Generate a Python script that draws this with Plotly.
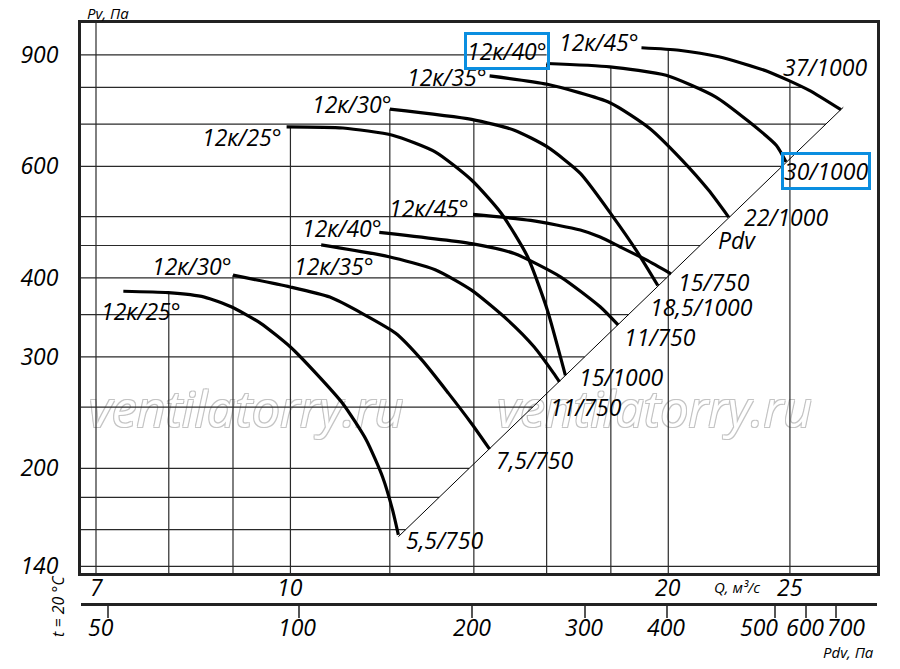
import numpy as np
import plotly.graph_objects as go

# ---------------- data (Q in m3/s, Pv in Pa) ----------------
q_range = [6.81, 29.33]
pv_range = [136.7, 1011]

q_grid = [7, 8, 9, 10, 12, 14, 16, 18, 20, 25]
pv_grid = [140, 160, 180, 200, 250, 300, 350, 400, 450, 500, 600, 700, 800, 900]

q_ticks = [7, 10, 20, 25]
pv_ticks = [140, 200, 300, 400, 600, 900]

# lower family (750 rpm)
q_s25 = [7.36, 7.99, 8.54, 8.97, 9.47, 10.0, 10.49, 11.01, 11.49, 11.84, 12.06, 12.19]
pv_s25 = [381, 379, 373, 360, 339, 311, 282, 253, 222, 194, 172, 157]
q_s30 = [9.0, 9.995, 10.75, 11.42, 12.13, 12.73, 13.36, 13.94, 14.41]
pv_s30 = [404, 387, 373, 351, 327, 296.5, 263, 235.5, 214.5]
q_s35 = [10.58, 11.98, 13.04, 13.94, 14.90, 15.64, 16.21, 16.38]
pv_s35 = [451, 432, 412, 382.5, 343, 311, 282.5, 274]
q_s40 = [11.77, 13.94, 15.08, 16.41, 17.65, 18.24]
pv_s40 = [472, 453, 437, 401.5, 360, 337]
q_s45 = [13.98, 15.54, 17.02, 17.65, 18.30, 19.21, 20.10]
pv_s45 = [504, 493, 476, 464, 448, 427, 406]

# upper family (1000 rpm)
q_b25 = [9.93, 11.01, 12.06, 13.04, 13.94, 14.72, 15.45, 16.02, 16.41, 16.56]
pv_b25 = [693, 690, 672, 632.5, 571, 506, 432, 356, 300, 280.5]
q_b30 = [12.0, 13.94, 15.08, 16.02, 17.02, 18.08, 18.86, 19.62]
pv_b30 = [739, 712, 684.5, 644, 585, 499, 442, 389]
q_b35 = [14.41, 16.02, 17.97, 19.32, 20.51, 21.54, 22.34]
pv_b35 = [834, 809, 756.5, 689.5, 614, 550, 499]
q_b40 = [16.0, 17.97, 19.92, 21.81, 23.17, 24.38, 24.82]
pv_b40 = [872.5, 862, 836, 773, 707, 648, 610]
q_b45 = [19.04, 20.40, 21.94, 24.03, 25.88, 27.45]
pv_b45 = [924, 915.6, 894, 847, 792, 737.5]

blade_labels = ["12к/25°", "12к/30°", "12к/35°", "12к/40°", "12к/45°"]
motor_small = ["5,5/750", "7,5/750", "11/750", "11/750", "15/750"]
motor_big = ["15/1000", "18,5/1000", "22/1000", "30/1000", "37/1000"]

# dynamic pressure line Pdv
q_pdv = [12.19, 27.57]
pv_pdv = [156, 744]

# Pdv scale under the chart: value, tick on Q scale, label centre on Q scale
pdv_text = ["50", "100", "200", "300", "400", "500", "600", "700"]
pdv_tick_q = [7.16, 10.15, 13.96, 17.17, 19.96, 24.33, 25.74, 27.18]
pdv_label_q = [7.06, 10.13, 13.94, 17.14, 19.93, 23.60, 25.69, 27.73]

# watermark centres
wm_q = [9.22, 19.5]
wm_pv = [243, 243]

small = [(q_s25, pv_s25), (q_s30, pv_s30), (q_s35, pv_s35), (q_s40, pv_s40), (q_s45, pv_s45)]
big = [(q_b25, pv_b25), (q_b30, pv_b30), (q_b35, pv_b35), (q_b40, pv_b40), (q_b45, pv_b45)]

# label offsets in px (xshift, yshift)
small_start_off = [(60, -20), (1, 9), (55, -21), (5, 4), (-2, 6.5)]
big_start_off = [(-3, -10.5), (4.5, 5), (-1, -1.5), (3, 12.5), (0, 5.5)]
small_end_off = [(6, -5), (4, -11), (-11, -25), (4, -12), (5, -8)]
big_end_off = [(12, -2), (-10, -21), (13, 0), (-5, -9), (-60, 42.5)]

BLUE = "#0a8ee0"
GRID = "#2a2a2a"
FONT = dict(family="Open Sans", size=23, color="black", style="italic")
SMALL_FONT = dict(family="Open Sans", size=15, color="black", style="italic")

lg = np.log10


def on_pdv(p):
    t = (lg(p) - lg(pv_pdv[0])) / (lg(pv_pdv[1]) - lg(pv_pdv[0]))
    return 10 ** (lg(q_pdv[0]) + t * (lg(q_pdv[1]) - lg(q_pdv[0])))


def curve_at(q, cq, cp):
    return 10 ** np.interp(lg(q), lg(cq), lg(cp))


def crossing(p, cq, cp):
    return 10 ** np.interp(lg(p), lg(cp[::-1]), lg(cq[::-1]))


fig = go.Figure()

# watermark first so that everything else is drawn over it
outline = ", ".join(f"{dx}px {dy}px 0 #c4c4c4" for dx, dy in [(1, 1), (-1, -1), (1, -1), (-1, 1)])
fig.add_trace(go.Scatter(x=wm_q, y=wm_pv, mode="text", text=["ventilatorry.ru"] * 2,
                         textposition="middle center", cliponaxis=False,
                         textfont=dict(family="Open Sans", size=50, color="white",
                                       style="italic", shadow=outline),
                         hoverinfo="skip"))

# grid, clipped by the curves on top and by the Pdv line on the right
for q in q_grid:
    tops = [curve_at(q, cq, cp) for cq, cp in small + big if cq[0] <= q <= cq[-1]]
    top = max(tops) if tops else pv_range[1] * 1.05
    fig.add_trace(go.Scatter(x=[q, q], y=[pv_range[0] * 0.95, top], mode="lines",
                             line=dict(color=GRID, width=1.2), hoverinfo="skip"))

for p in pv_grid:
    if p < pv_pdv[0]:
        end = q_range[1] * 1.05
    elif p <= pv_pdv[1]:
        end = on_pdv(p)
    elif p > max(pv_b40):
        end = q_b40[0]
    else:
        end = crossing(p, q_b45, pv_b45)
    fig.add_trace(go.Scatter(x=[q_range[0] * 0.95, end], y=[p, p], mode="lines",
                             line=dict(color=GRID, width=1.2), hoverinfo="skip"))

fig.add_trace(go.Scatter(x=q_pdv, y=pv_pdv, mode="lines",
                         line=dict(color="black", width=1), hoverinfo="skip"))

for cq, cp in small + big:
    fig.add_trace(go.Scatter(x=cq, y=cp, mode="lines",
                             line=dict(color="black", width=3.2, shape="spline", smoothing=0.6),
                             hoverinfo="skip"))

# keeps the Pdv scale axis alive
fig.add_trace(go.Scatter(x=[10], y=[300], xaxis="x2", yaxis="y", mode="markers",
                         marker=dict(opacity=0), hoverinfo="skip"))

ann = []
for group, s_off, e_off, motors, boxed in [
    (small, small_start_off, small_end_off, motor_small, (None, None)),
    (big, big_start_off, big_end_off, motor_big, (3, 3)),
]:
    for i, (cq, cp) in enumerate(group):
        a = dict(x=lg(cq[0]), y=lg(cp[0]), xref="x", yref="y", text=blade_labels[i],
                 xanchor="right", yanchor="middle", showarrow=False, font=FONT,
                 xshift=s_off[i][0], yshift=s_off[i][1])
        if boxed[0] == i:
            a.update(bordercolor=BLUE, borderwidth=3, borderpad=0)
        ann.append(a)
        b = dict(x=lg(cq[-1]), y=lg(cp[-1]), xref="x", yref="y", text=motors[i],
                 xanchor="left", yanchor="middle", showarrow=False, font=FONT,
                 xshift=e_off[i][0], yshift=e_off[i][1])
        if boxed[1] == i:
            b.update(bordercolor=BLUE, borderwidth=3, borderpad=0)
        ann.append(b)

ann.append(dict(x=lg(22.67), y=lg(459), xref="x", yref="y", text="Pdv", showarrow=False,
                xanchor="center", yanchor="middle", font=FONT))

# Q tick labels sit a little closer to the frame than the axis would put them
for q in q_ticks:
    ann.append(dict(x=lg(q), y=0.0534, xref="x", yref="paper", text=str(q), showarrow=False,
                    xanchor="center", yanchor="middle", yshift=-14, font=FONT))

for txt, lq in zip(pdv_text, pdv_label_q):
    ann.append(dict(x=lg(lq), y=0, xref="x", yref="paper", text=txt, showarrow=False,
                    xanchor="center", yanchor="middle", yshift=-23, font=FONT))

ann += [
    dict(x=0, y=1, xref="paper", yref="paper", text="Pv, Па", showarrow=False,
         xanchor="center", yanchor="middle", xshift=27, yshift=10, font=SMALL_FONT),
    dict(x=0.8236, y=0, xref="paper", yref="paper", text="Q, м³/c", showarrow=False,
         xanchor="center", yanchor="middle", yshift=17, font=SMALL_FONT),
    dict(x=0.964, y=0, xref="paper", yref="paper", text="Pdv, Па", showarrow=False,
         xanchor="center", yanchor="middle", yshift=-48, font=SMALL_FONT),
    dict(x=0, y=0, xref="paper", yref="paper", text="t = 20 °C", showarrow=False,
         xanchor="center", yanchor="middle", textangle=-90, xshift=-23, yshift=-2,
         font=dict(family="Open Sans", size=16, color="black", style="italic")),
]

# the page body adds an 8px margin, so the figure is drawn 8px smaller
fig.update_layout(
    width=884, height=653, autosize=False,
    margin=dict(l=67, r=12, t=15, b=57),
    paper_bgcolor="white", plot_bgcolor="white",
    showlegend=False,
    annotations=ann,
    xaxis=dict(type="log", range=[lg(q_range[0]), lg(q_range[1])],
               showgrid=False, zeroline=False,
               showline=True, mirror=True, linewidth=3, linecolor="#222",
               showticklabels=False, ticks=""),
    yaxis=dict(type="log", range=[lg(pv_range[0]), lg(pv_range[1])], domain=[0.0534, 1],
               showgrid=False, zeroline=False,
               showline=True, mirror=True, linewidth=3, linecolor="#222",
               tickmode="array", tickvals=pv_ticks, ticktext=[str(v) for v in pv_ticks],
               ticks="", tickfont=FONT, ticklabelstandoff=15),
    xaxis2=dict(type="log", range=[lg(q_range[0]), lg(q_range[1])],
                overlaying="x", anchor="free", position=0,
                showgrid=False, zeroline=False,
                showline=True, linewidth=2.5, linecolor="#222",
                tickmode="array", tickvals=pdv_tick_q, showticklabels=False,
                ticks="outside", ticklen=12, tickwidth=1.5, tickcolor="#555"),
)

fig.write_html("out.html")
